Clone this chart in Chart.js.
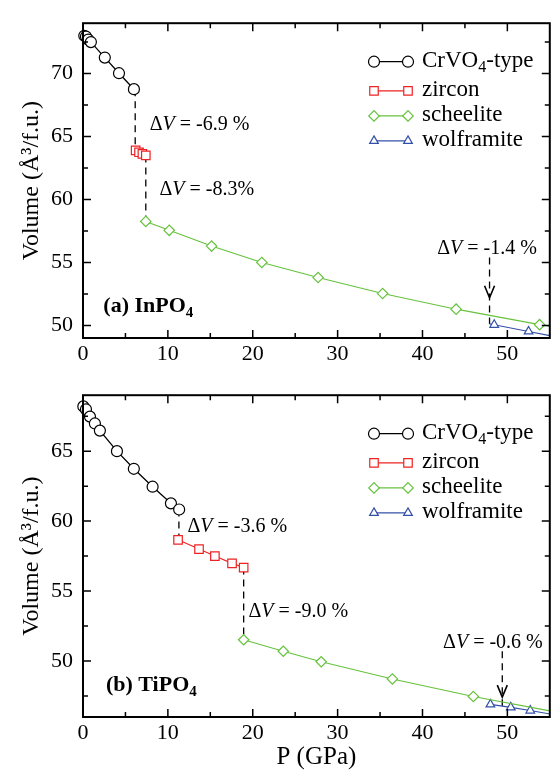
<!DOCTYPE html>
<html><head><meta charset="utf-8">
<script src="https://cdn.jsdelivr.net/npm/chart.js@4.4.1/dist/chart.umd.min.js"></script>
<style>
html,body{margin:0;padding:0;background:#fff;}
#wrap{position:relative;width:557px;height:770px;overflow:hidden;}
#c1{position:absolute;left:0;top:0;}
#c2{position:absolute;left:0;top:372px;}
</style></head><body>
<div id="wrap"><canvas id="c1" width="557" height="372"></canvas><canvas id="c2" width="557" height="398"></canvas></div>
<script>
// ---------- data ----------
const pressureTicks = [0, 10, 20, 30, 40, 50];
const inpo4VolumeTicks = [50, 55, 60, 65, 70];
const tipo4VolumeTicks = [50, 55, 60, 65];
const phaseNames = ['CrVO4-type', 'zircon', 'scheelite', 'wolframite'];

// (a) InPO4
const inpo4CrVO4P = [0.15, 0.35, 0.62, 0.93, 2.57, 4.24, 6.0];
const inpo4CrVO4V = [73.0, 72.94, 72.7, 72.5, 71.27, 70.03, 68.76];
const inpo4ZirconP = [6.2, 6.6, 7.0, 7.4];
const inpo4ZirconV = [63.9, 63.75, 63.62, 63.5];
const inpo4ScheeliteP = [7.4, 10.16, 15.15, 21.07, 27.7, 35.3, 43.96, 53.8];
const inpo4ScheeliteV = [58.26, 57.55, 56.3, 55.0, 53.8, 52.53, 51.29, 50.06];
const inpo4ScheeliteTail = [55, 49.93];
const inpo4WolframiteP = [48.45, 52.5];
const inpo4WolframiteV = [50.05, 49.52];
const inpo4WolframiteHead = [47.9, 50.12];
const inpo4WolframiteTail = [55, 49.19];
const inpo4JumpP = [6.15, 7.4];
const inpo4JumpFromV = [68.76, 63.5];
const inpo4JumpToV = [63.9, 58.26];
const inpo4ArrowP = 47.9, inpo4ArrowTopV = 55.4, inpo4ArrowTipV = 52.2, inpo4ArrowEndV = 50.12;
const inpo4DeltaLabels = ['-6.9 %', '-8.3%', '-1.4 %'];

// (b) TiPO4
const tipo4CrVO4P = [0.04, 0.35, 0.82, 1.4, 1.99, 4.0, 5.99, 8.2, 10.36, 11.33];
const tipo4CrVO4V = [68.2, 67.99, 67.47, 66.98, 66.47, 65.0, 63.74, 62.46, 61.27, 60.83];
const tipo4ZirconP = [11.2, 13.67, 15.54, 17.56, 18.93];
const tipo4ZirconV = [58.66, 58.0, 57.5, 56.98, 56.68];
const tipo4ScheeliteP = [18.93, 23.6, 28.07, 36.45, 45.99];
const tipo4ScheeliteV = [51.52, 50.7, 49.95, 48.72, 47.47];
const tipo4ScheeliteTail = [55, 46.44];
const tipo4WolframiteP = [48.0, 50.4, 52.7];
const tipo4WolframiteV = [46.9, 46.69, 46.46];
const tipo4WolframiteTail = [55, 46.21];
const tipo4JumpP = [11.3, 18.93];
const tipo4JumpFromV = [60.83, 56.68];
const tipo4JumpToV = [58.66, 51.52];
const tipo4ArrowP = 49.4, tipo4ArrowTopV = 50.7, tipo4ArrowTipV = 47.42, tipo4ArrowEndV = 46.78;
const tipo4DeltaLabels = ['-3.6 %', '-9.0 %', '-0.6 %'];

// ---------- styles ----------
const FONT = "'Liberation Serif', 'Times New Roman', serif";
const COL = { crvo4: '#000000', zircon: '#ee2222', scheelite: '#66c23c', wolframite: '#3350a8' };
const pts = (P, V) => P.map((p, i) => ({ x: p, y: V[i] }));

function seriesDatasets(s) {
  const ds = [];
  // dashed transitions
  s.jumpP.forEach((p, i) => ds.push({
    data: [{ x: p, y: s.jumpFrom[i] }, { x: p, y: s.jumpTo[i] }],
    showLine: true, borderColor: '#000', borderWidth: 1.3, borderDash: [7, 5],
    pointRadius: 0, clip: false, order: 5
  }));
  ds.push({
    data: [{ x: s.arrow.p, y: s.arrow.top }, { x: s.arrow.p, y: s.arrow.end }],
    showLine: true, borderColor: '#000', borderWidth: 1.3, borderDash: [7, 5],
    pointRadius: 0, clip: false, order: 5
  });
  // phases
  const mk = (data, color, style, radius, marks) => ({
    data, showLine: true, borderColor: color, borderWidth: color === '#000000' ? 1.3 : 1.1,
    pointStyle: style, pointRadius: data.map((_, i) => marks(i) ? radius : 0),
    pointBorderColor: color, pointBackgroundColor: '#ffffff', pointBorderWidth: 1.2,
    clip: false, order: 1, tension: 0
  });
  ds.push(mk(pts(s.crP, s.crV), COL.crvo4, 'circle', 5.5, () => true));
  ds.push(mk(pts(s.zrP, s.zrV), COL.zircon, 'rect', 6, () => true));
  const sch = pts(s.scP, s.scV).concat([{ x: s.scTail[0], y: s.scTail[1] }]);
  ds.push(mk(sch, COL.scheelite, 'rectRot', 5.2, i => i < s.scP.length));
  let wo = pts(s.woP, s.woV);
  let off = 0;
  if (s.woHead) { wo = [{ x: s.woHead[0], y: s.woHead[1] }].concat(wo); off = 1; }
  wo = wo.concat([{ x: s.woTail[0], y: s.woTail[1] }]);
  ds.push(mk(wo, COL.wolframite, 'triangle', 5, i => i >= off && i < off + s.woP.length));
  return ds;
}

function richText(ctx, parts, x, y, align) {
  let w = 0;
  parts.forEach(p => { ctx.font = p.font; p.w = ctx.measureText(p.t).width; w += p.w; });
  let cx = align === 'center' ? x - w / 2 : x;
  ctx.textBaseline = 'middle'; ctx.textAlign = 'left';
  parts.forEach(p => { ctx.font = p.font; ctx.fillText(p.t, cx, y + (p.dy || 0)); cx += p.w; });
}
function deltaParts(txt) {
  return [
    { t: 'Δ', font: `20px ${FONT}` },
    { t: 'V', font: `italic 20px ${FONT}` },
    { t: ' = ' + txt, font: `20px ${FONT}` }
  ];
}

const framePlugin = {
  id: 'frame',
  afterDatasetsDraw(chart) {
    const { ctx, chartArea: a, scales: { x, y } } = chart;
    ctx.save();
    ctx.strokeStyle = '#000';
    ctx.lineWidth = 1.5;
    ctx.beginPath();
    for (let v = 5; v < x.max; v += 5) {
      const px = x.getPixelForValue(v), L = v % 10 === 0 ? 8 : 5;
      ctx.moveTo(px, a.bottom); ctx.lineTo(px, a.bottom - L);
      ctx.moveTo(px, a.top); ctx.lineTo(px, a.top + L);
    }
    for (let v = Math.ceil(y.min / 2.5) * 2.5; v < y.max; v += 2.5) {
      if (v <= y.min) continue;
      const py = y.getPixelForValue(v), L = v % 5 === 0 ? 8 : 5;
      ctx.moveTo(a.left, py); ctx.lineTo(a.left + L, py);
      ctx.moveTo(a.right, py); ctx.lineTo(a.right - L, py);
    }
    ctx.stroke();
    ctx.lineWidth = 2;
    ctx.strokeRect(a.left, a.top, a.right - a.left, a.bottom - a.top);
    ctx.restore();
  }
};

const annotPlugin = {
  id: 'annot',
  afterDraw(chart, args, o) {
    const { ctx, chartArea: a, scales: { x, y } } = chart;
    ctx.save();
    ctx.fillStyle = '#000';
    // delta V labels
    o.deltas.forEach((d, i) => {
      richText(ctx, deltaParts(o.deltaLabels[i]), x.getPixelForValue(d.p), y.getPixelForValue(d.v), d.align);
    });
    // arrowhead
    const ax = x.getPixelForValue(o.arrow.p), ay = y.getPixelForValue(o.arrow.tip);
    ctx.strokeStyle = '#000'; ctx.lineWidth = 1.6; ctx.setLineDash([]);
    ctx.beginPath(); ctx.moveTo(ax - 5, ay - 12); ctx.lineTo(ax, ay); ctx.lineTo(ax + 5, ay - 12); ctx.stroke();
    // panel label
    richText(ctx, [
      { t: o.panel[0], font: `bold 22px ${FONT}` },
      { t: o.panel[1], font: `bold 15px ${FONT}`, dy: 7 }
    ], x.getPixelForValue(o.panelPos.p), y.getPixelForValue(o.panelPos.v), 'left');
    // legend
    const rows = [38.5, 67.7, 92.7, 117.7];
    const mx1 = a.left + 291, mx2 = a.left + 325, tx = a.left + 339;
    const styles = [
      [COL.crvo4, 'circle', 5.5], [COL.zircon, 'rect', 6], [COL.scheelite, 'rectRot', 5.2], [COL.wolframite, 'triangle', 5]
    ];
    styles.forEach((s, i) => {
      const ry = a.top + rows[i];
      ctx.strokeStyle = s[0]; ctx.lineWidth = s[0] === '#000000' ? 1.3 : 1.1;
      ctx.beginPath(); ctx.moveTo(mx1, ry); ctx.lineTo(mx2, ry); ctx.stroke();
      ctx.fillStyle = '#fff'; ctx.lineWidth = 1.2;
      [mx1, mx2].forEach(mx => Chart.helpers.drawPoint(ctx, { pointStyle: s[1], radius: s[2], borderWidth: 1.2, rotation: 0 }, mx, ry));
      ctx.fillStyle = '#000';
      const name = phaseNames[i];
      if (name.indexOf('4') >= 0) {
        const k = name.indexOf('4');
        richText(ctx, [
          { t: name.slice(0, k), font: `23px ${FONT}` },
          { t: '4', font: `16px ${FONT}`, dy: 7 },
          { t: name.slice(k + 1), font: `23px ${FONT}` }
        ], tx, ry - 1, 'left');
      } else {
        richText(ctx, [{ t: name, font: `23px ${FONT}` }], tx, ry - 1, 'left');
      }
    });
    ctx.restore();
  }
};

function makeChart(id, cfg) {
  return new Chart(document.getElementById(id), {
    type: 'scatter',
    data: { datasets: cfg.datasets },
    options: {
      responsive: false, animation: false, events: [],
      layout: { padding: { top: cfg.padTop, right: 2, left: 0, bottom: 0 } },
      plugins: { legend: { display: false }, tooltip: { enabled: false }, annot: cfg.annot },
      scales: {
        x: {
          type: 'linear', min: 0, max: 55,
          afterBuildTicks: s => { s.ticks = pressureTicks.map(v => ({ value: v })); },
          afterFit: s => { s.height = cfg.xAxisHeight; },
          grid: { display: false, drawTicks: false }, border: { display: false },
          ticks: { font: { family: FONT, size: 22 }, color: '#000', padding: 3, maxRotation: 0, autoSkip: false },
          title: cfg.xTitle ? { display: true, text: 'P (GPa)', color: '#000', font: { family: FONT, size: 25, lineHeight: 1 }, padding: { top: 0, bottom: 0 } } : { display: false }
        },
        y: {
          type: 'linear', min: cfg.yMin, max: cfg.yMax,
          afterBuildTicks: s => { s.ticks = cfg.yTicks.map(v => ({ value: v })); },
          afterFit: s => { s.width = 83; },
          grid: { display: false, drawTicks: false }, border: { display: false },
          ticks: { font: { family: FONT, size: 22 }, color: '#000', padding: 10, autoSkip: false },
          title: { display: true, text: 'Volume (Å³/f.u.)', color: '#000', font: { family: FONT, size: 24, lineHeight: 1.2 }, padding: { top: 17, bottom: 0 } }
        }
      }
    },
    plugins: [framePlugin, annotPlugin]
  });
}

makeChart('c1', {
  padTop: 10, xAxisHeight: 34, yMin: 49, yMax: 74, yTicks: inpo4VolumeTicks, xTitle: false,
  datasets: seriesDatasets({
    crP: inpo4CrVO4P, crV: inpo4CrVO4V, zrP: inpo4ZirconP, zrV: inpo4ZirconV,
    scP: inpo4ScheeliteP, scV: inpo4ScheeliteV, scTail: inpo4ScheeliteTail,
    woP: inpo4WolframiteP, woV: inpo4WolframiteV, woHead: inpo4WolframiteHead, woTail: inpo4WolframiteTail,
    jumpP: inpo4JumpP, jumpFrom: inpo4JumpFromV, jumpTo: inpo4JumpToV,
    arrow: { p: inpo4ArrowP, top: inpo4ArrowTopV, end: inpo4ArrowEndV }
  }),
  annot: {
    deltaLabels: inpo4DeltaLabels,
    deltas: [{ p: 7.85, v: 65.9, align: 'left' }, { p: 9.0, v: 60.77, align: 'left' }, { p: 47.6, v: 56.1, align: 'center' }],
    arrow: { p: inpo4ArrowP, tip: inpo4ArrowTipV },
    panel: ['(a) InPO', '4'], panelPos: { p: 2.4, v: 51.5 }
  }
});

makeChart('c2', {
  padTop: 17, xAxisHeight: 53, yMin: 46, yMax: 69, yTicks: tipo4VolumeTicks, xTitle: true,
  datasets: seriesDatasets({
    crP: tipo4CrVO4P, crV: tipo4CrVO4V, zrP: tipo4ZirconP, zrV: tipo4ZirconV,
    scP: tipo4ScheeliteP, scV: tipo4ScheeliteV, scTail: tipo4ScheeliteTail,
    woP: tipo4WolframiteP, woV: tipo4WolframiteV, woHead: null, woTail: tipo4WolframiteTail,
    jumpP: tipo4JumpP, jumpFrom: tipo4JumpFromV, jumpTo: tipo4JumpToV,
    arrow: { p: tipo4ArrowP, top: tipo4ArrowTopV, end: tipo4ArrowEndV }
  }),
  annot: {
    deltaLabels: tipo4DeltaLabels,
    deltas: [{ p: 12.3, v: 59.6, align: 'left' }, { p: 19.5, v: 53.5, align: 'left' }, { p: 48.3, v: 51.28, align: 'center' }],
    arrow: { p: tipo4ArrowP, tip: tipo4ArrowTipV },
    panel: ['(b) TiPO', '4'], panelPos: { p: 2.7, v: 48.25 }
  }
});
</script>
</body></html>
